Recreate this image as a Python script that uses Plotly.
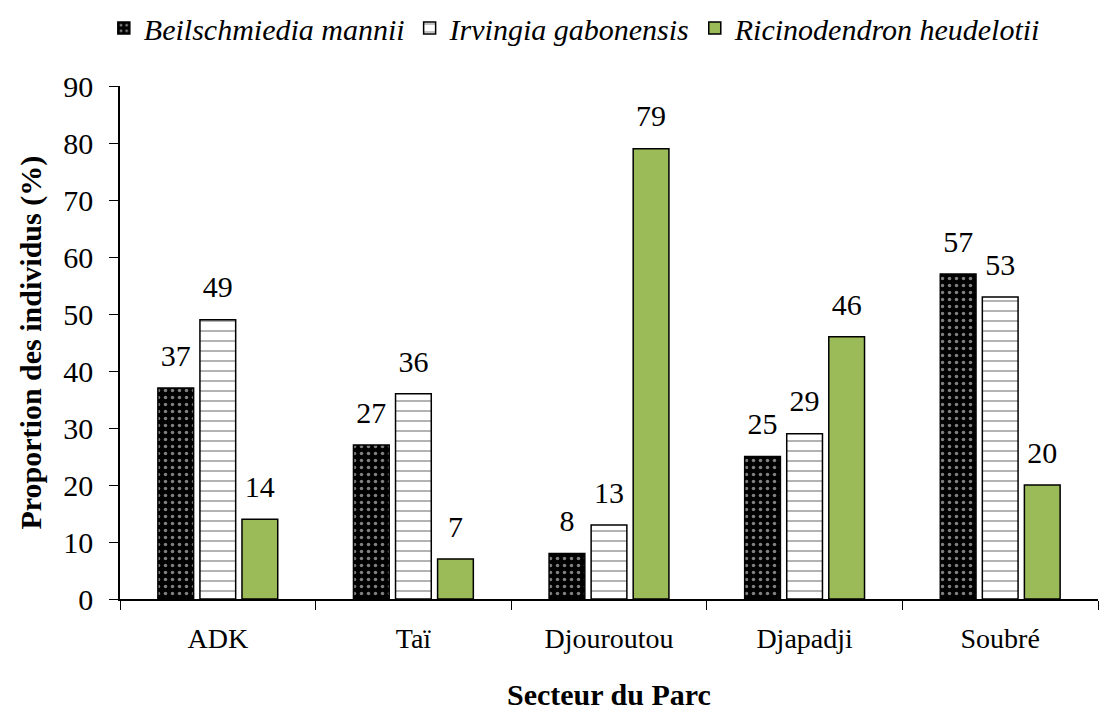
import plotly.graph_objects as go

sectors = ["ADK", "Taï", "Djouroutou", "Djapadji", "Soubré"]
beilschmiedia = [37, 27, 8, 25, 57]
irvingia = [49, 36, 13, 29, 53]
ricinodendron = [14, 7, 79, 46, 20]

font_family = "Liberation Serif"
GAP = 0.355

series = [
    ("<i>Beilschmiedia mannii</i>", beilschmiedia,
     dict(color="black", line=dict(color="black", width=1.5),
          pattern=dict(shape=".", fgcolor="white", bgcolor="black", size=7, solidity=0.2))),
    ("<i>Irvingia gabonensis</i>", irvingia,
     dict(color="white", line=dict(color="black", width=1.5),
          pattern=dict(shape="-", fgcolor="black", bgcolor="white", size=10, solidity=0.12))),
    ("<i>Ricinodendron heudelotii</i>", ricinodendron,
     dict(color="#9BBB59", line=dict(color="black", width=1.5))),
]

fig = go.Figure()
for i, (name, vals, marker) in enumerate(series):
    fig.add_trace(go.Bar(x=sectors, y=vals, name=name, marker=marker, offsetgroup=str(i)))
for i, (name, vals, marker) in enumerate(series):
    fig.add_trace(go.Scatter(
        x=sectors, y=vals, mode="markers+text", text=vals, textposition="top center",
        marker=dict(size=22, opacity=0), offsetgroup=str(i), showlegend=False,
        hoverinfo="skip", cliponaxis=False,
        textfont=dict(size=30, color="black", family=font_family),
    ))

fig.update_layout(
    width=1118, height=713,
    barmode="group", bargap=GAP, bargroupgap=0.15,
    scattermode="group", scattergap=GAP,
    plot_bgcolor="white", paper_bgcolor="white",
    font=dict(family=font_family, size=30, color="black"),
    margin=dict(l=112, r=28, t=78, b=122, autoexpand=False),
    showlegend=True,
    legend=dict(orientation="h", x=0.507, xanchor="center", y=0.972, yanchor="middle",
                yref="container", xref="container",
                font=dict(size=30, family=font_family), itemwidth=30),
    annotations=[
        dict(text="<b>Secteur du Parc</b>", x=0.5, xref="paper", y=-0.187, yref="paper",
             yanchor="middle", showarrow=False, font=dict(size=30, family=font_family)),
        dict(text="<b>Proportion des individus (%)</b>", x=-0.092, xref="paper", xanchor="center",
             y=0.5, yref="paper", textangle=-90, showarrow=False,
             font=dict(size=30, family=font_family)),
    ],
)
fig.update_yaxes(
    range=[0, 90], dtick=10, showgrid=False, showline=True, linecolor="black", linewidth=1.5,
    ticks="outside", ticklen=9, tickcolor="black", tickfont=dict(size=30),
    ticklabelstandoff=10, zeroline=False, automargin=False,
)
fig.update_xaxes(
    showline=True, linecolor="black", linewidth=1.5, ticks="outside", tickson="boundaries",
    ticklen=9, tickcolor="black", tickfont=dict(size=28), ticklabelstandoff=14,
    automargin=False,
)

fig.write_html("out.html")
